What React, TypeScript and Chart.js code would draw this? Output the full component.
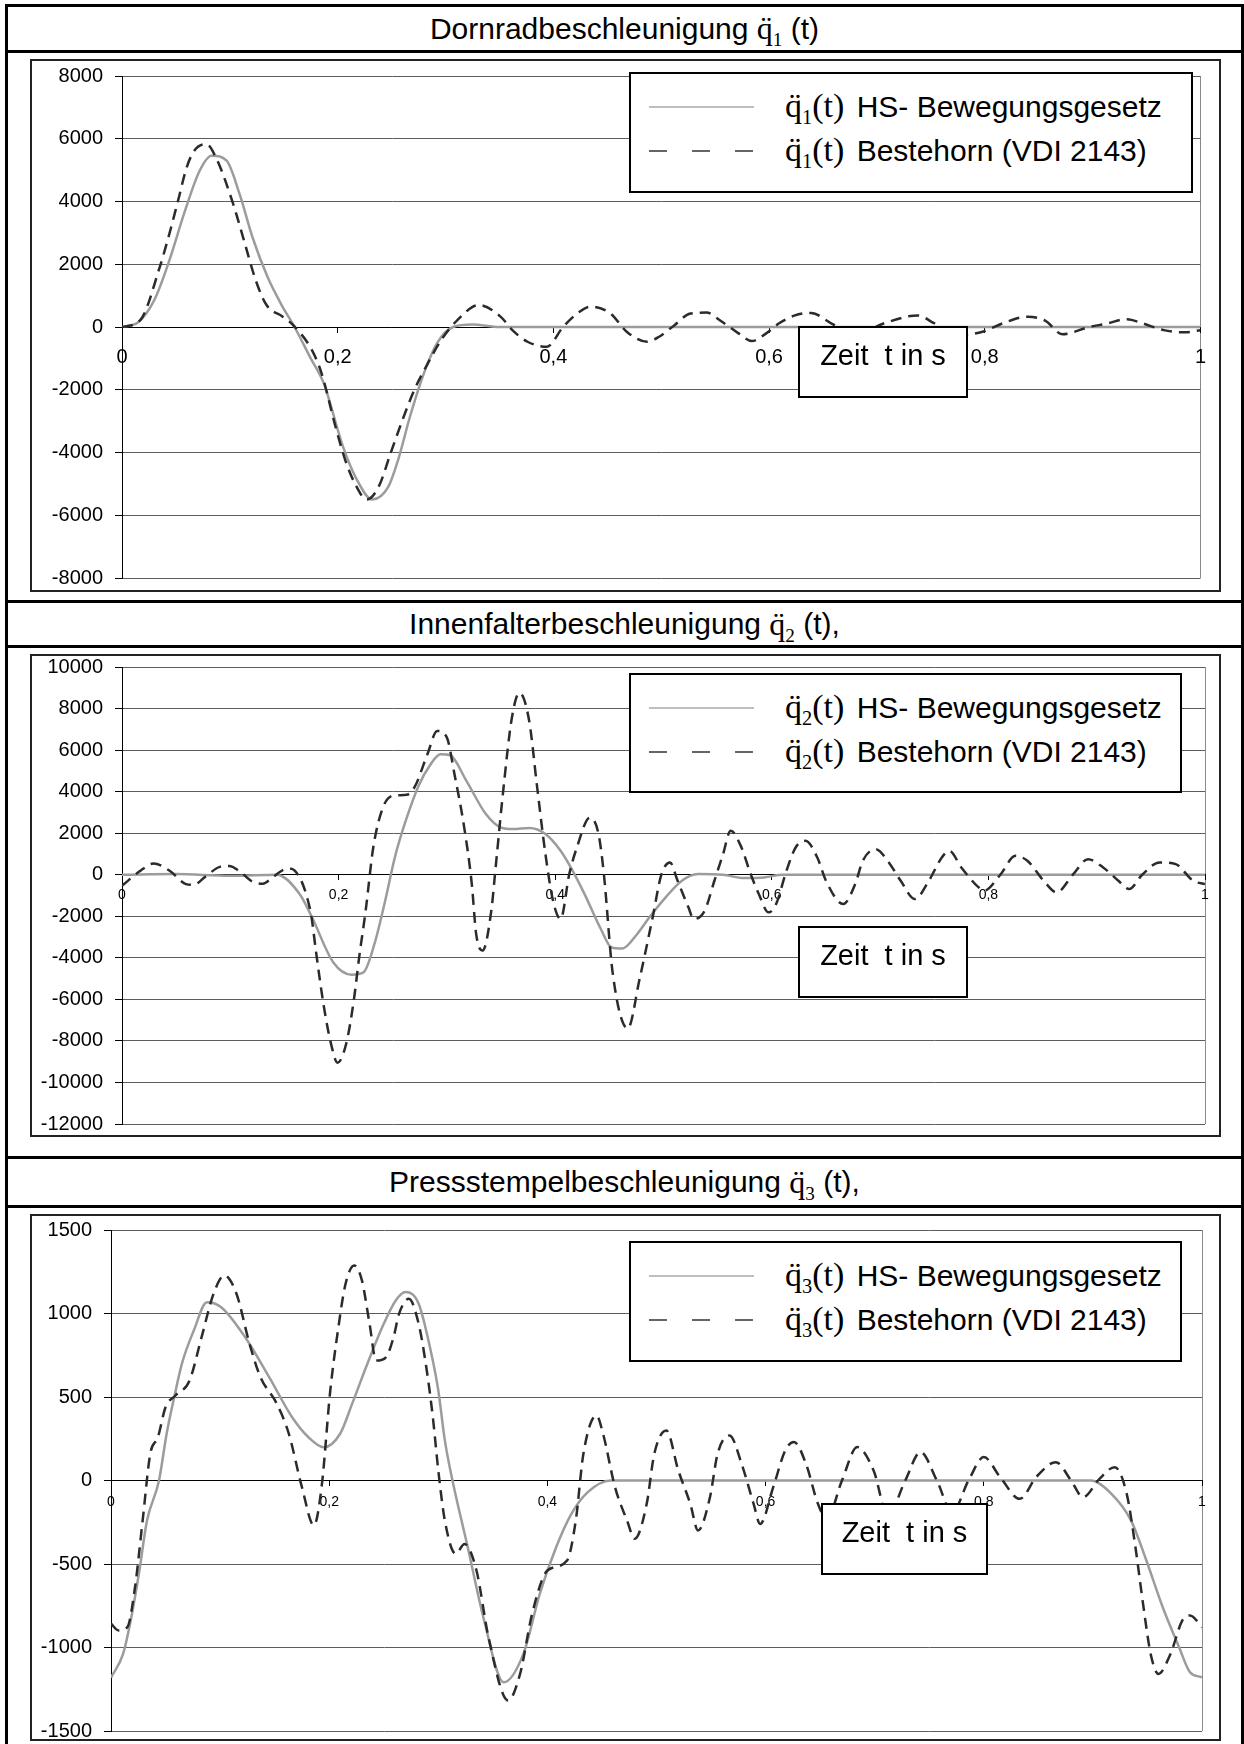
import React, { useEffect, useRef } from 'react';
import { Chart, registerables } from 'chart.js';

Chart.register(...registerables);

// ---------- data ----------
const xTickLabels = ['0', '0,2', '0,4', '0,6', '0,8', '1'];

const q1HsT = [0, 0.015, 0.03, 0.044, 0.058, 0.072, 0.083, 0.097, 0.109, 0.121, 0.135, 0.148, 0.16, 0.175, 0.187, 0.205, 0.218, 0.232, 0.247, 0.256, 0.267, 0.28, 0.292, 0.307, 0.325, 0.35, 0.5, 0.7, 1];
const q1HsV = [0, 150, 860, 2130, 3660, 4980, 5460, 5300, 4240, 2860, 1590, 700, 0, -1000, -1790, -3820, -4880, -5500, -5090, -4240, -2860, -1470, -520, 0, 80, 0, 0, 0, 0];

const q1BhT = [0, 0.017, 0.035, 0.044, 0.052, 0.06, 0.067, 0.078, 0.087, 0.103, 0.114, 0.124, 0.134, 0.149, 0.159, 0.176, 0.185, 0.198, 0.207, 0.216, 0.227, 0.238, 0.249, 0.26, 0.271, 0.282, 0.296, 0.311, 0.331, 0.351, 0.362, 0.376, 0.394, 0.409, 0.424, 0.435, 0.453, 0.468, 0.487, 0.498, 0.512, 0.527, 0.542, 0.555, 0.572, 0.584, 0.597, 0.609, 0.624, 0.639, 0.658, 0.68, 0.707, 0.738, 0.753, 0.775, 0.798, 0.817, 0.84, 0.856, 0.872, 0.897, 0.912, 0.932, 0.946, 0.966, 0.985, 1];
const q1BhV = [0, 220, 1910, 2980, 4030, 5090, 5620, 5830, 5410, 3930, 2650, 1490, 700, 330, 50, -730, -1470, -3180, -4240, -4990, -5500, -5090, -4030, -2970, -2010, -1260, -415, 220, 700, 330, -100, -470, -630, 0, 480, 650, 430, -150, -470, -310, 50, 430, 460, 200, -210, -450, -210, 110, 370, 450, 110, -250, 120, 370, 120, -260, -150, 120, 330, 200, -230, 0, 100, 250, 120, -100, -170, -100];

const q2HsT = [0, 0.05, 0.1, 0.143, 0.164, 0.175, 0.195, 0.212, 0.223, 0.234, 0.243, 0.252, 0.262, 0.274, 0.285, 0.294, 0.303, 0.318, 0.336, 0.35, 0.361, 0.376, 0.391, 0.405, 0.416, 0.427, 0.442, 0.452, 0.462, 0.475, 0.487, 0.502, 0.517, 0.532, 0.555, 0.574, 0.593, 0.61, 0.8, 1];
const q2HsV = [0, 30, -50, 0, -930, -2000, -4210, -4810, -4700, -3170, -1250, 850, 2600, 4300, 5320, 5800, 5750, 4520, 2920, 2270, 2200, 2250, 1960, 1150, 200, -920, -2600, -3500, -3550, -2900, -2050, -1090, -290, 30, 0, -160, -130, 0, 0, 0];

const q2BhT = [0, 0.017, 0.029, 0.044, 0.059, 0.066, 0.077, 0.091, 0.099, 0.108, 0.12, 0.13, 0.139, 0.15, 0.156, 0.164, 0.17, 0.175, 0.179, 0.186, 0.193, 0.199, 0.207, 0.214, 0.219, 0.225, 0.232, 0.241, 0.25, 0.263, 0.27, 0.282, 0.291, 0.3, 0.307, 0.316, 0.323, 0.327, 0.333, 0.341, 0.345, 0.352, 0.36, 0.367, 0.376, 0.383, 0.391, 0.398, 0.405, 0.413, 0.42, 0.432, 0.44, 0.445, 0.453, 0.467, 0.478, 0.49, 0.498, 0.506, 0.513, 0.523, 0.528, 0.538, 0.547, 0.555, 0.562, 0.572, 0.58, 0.588, 0.597, 0.604, 0.613, 0.622, 0.631, 0.642, 0.65, 0.666, 0.677, 0.684, 0.696, 0.707, 0.719, 0.732, 0.745, 0.757, 0.764, 0.775, 0.791, 0.796, 0.811, 0.825, 0.836, 0.851, 0.863, 0.878, 0.892, 0.906, 0.92, 0.93, 0.942, 0.958, 0.973, 0.989, 1];
const q2BhV = [-530, 190, 540, 190, -450, -490, -90, 390, 420, 190, -320, -430, -130, 260, 290, -130, -930, -2050, -3650, -6220, -8140, -9050, -8140, -6060, -3970, -1730, 1310, 3240, 3800, 3850, 4200, 5800, 6920, 6600, 4840, 2270, -450, -2850, -3650, -1730, 350, 4040, 7560, 8760, 7400, 4360, 990, -1250, -2130, 30, 1310, 2750, 1960, 0, -4700, -7400, -5000, -2050, 0, 590, -290, -1570, -2130, -1730, -290, 990, 2120, 1310, 100, -930, -1810, -1410, 100, 1310, 1630, 830, -290, -1410, -450, 670, 1230, 670, -290, -1170, -290, 830, 1150, 350, -610, -770, 0, 910, 670, -290, -850, 0, 750, 350, -290, -690, 0, 590, 510, -290, -450];

const q3HsT = [0, 0.011, 0.018, 0.026, 0.033, 0.044, 0.051, 0.058, 0.065, 0.076, 0.088, 0.101, 0.123, 0.145, 0.166, 0.181, 0.195, 0.21, 0.221, 0.235, 0.25, 0.261, 0.27, 0.282, 0.293, 0.3, 0.306, 0.313, 0.327, 0.342, 0.36, 0.378, 0.393, 0.408, 0.422, 0.437, 0.458, 0.7, 0.898, 0.917, 0.935, 0.949, 0.964, 0.979, 0.989, 1];
const q3HsV = [-1180, -1040, -840, -540, -240, 0, 280, 500, 700, 900, 1068, 1038, 858, 619, 379, 259, 199, 280, 459, 699, 938, 1078, 1128, 1058, 778, 539, 240, 0, -400, -838, -1208, -1038, -679, -400, -200, -70, 0, 0, 0, -80, -240, -479, -759, -998, -1148, -1178];

const q3BhT = [0, 0.007, 0.015, 0.022, 0.029, 0.036, 0.043, 0.05, 0.059, 0.072, 0.083, 0.094, 0.104, 0.115, 0.127, 0.137, 0.152, 0.163, 0.175, 0.186, 0.193, 0.201, 0.208, 0.215, 0.223, 0.23, 0.237, 0.243, 0.252, 0.259, 0.264, 0.273, 0.282, 0.289, 0.295, 0.3, 0.306, 0.316, 0.324, 0.335, 0.346, 0.364, 0.375, 0.386, 0.4, 0.418, 0.426, 0.433, 0.445, 0.451, 0.462, 0.473, 0.48, 0.491, 0.498, 0.509, 0.52, 0.531, 0.538, 0.549, 0.556, 0.567, 0.578, 0.589, 0.595, 0.607, 0.618, 0.626, 0.637, 0.648, 0.656, 0.67, 0.684, 0.699, 0.712, 0.728, 0.742, 0.757, 0.771, 0.786, 0.8, 0.815, 0.833, 0.848, 0.866, 0.88, 0.891, 0.906, 0.92, 0.931, 0.939, 0.946, 0.953, 0.96, 0.971, 0.982, 0.989, 1];
const q3BhV = [-858, -898, -878, -639, -240, 160, 259, 439, 509, 599, 858, 1118, 1228, 1118, 818, 619, 459, 280, -40, -269, -40, 539, 898, 1178, 1287, 1198, 938, 718, 738, 858, 998, 1088, 938, 678, 379, 60, -240, -439, -380, -539, -938, -1317, -1157, -798, -539, -479, -240, 160, 390, 280, -40, -240, -349, -140, 160, 300, 60, -140, -299, -100, 160, 270, 100, -140, -260, -40, 180, 230, 100, -140, -230, 0, 200, 60, -210, 0, 170, 0, -190, 0, 140, 20, -110, 20, 110, 0, -100, 10, 80, -80, -400, -740, -1040, -1158, -1040, -838, -808, -878];

// ---------- layout ----------
const SANS = "'Liberation Sans', Arial, sans-serif";
const SERIF = "'Liberation Serif', 'Times New Roman', serif";
const EXT = 26; // canvas extends beyond the frame so tick-label overhang does not shrink the plot

type Spec = {
  frame: { x: number; y: number; w: number; h: number };
  padTop: number; padBottom: number; padRight: number; yAxisW: number;
  yMin: number; yMax: number; yStep: number;
  xFont: number; xPad: number;
  hsT: number[]; hsV: number[]; bhT: number[]; bhV: number[];
  legend: { x: number; y: number; w: number; h: number };
  zeit: { x: number; y: number; w: number; h: number };
  idx: string;
};

const specs: Spec[] = [
  {
    frame: { x: 30, y: 59, w: 1191, h: 533 }, padTop: 17, padBottom: 14, padRight: 16, yAxisW: 92,
    yMin: -8000, yMax: 8000, yStep: 2000, xFont: 20, xPad: 15,
    hsT: q1HsT, hsV: q1HsV, bhT: q1BhT, bhV: q1BhV,
    legend: { x: 629, y: 72, w: 564, h: 121 }, zeit: { x: 798, y: 326, w: 170, h: 72 }, idx: '1',
  },
  {
    frame: { x: 30, y: 654, w: 1191, h: 483 }, padTop: 13, padBottom: 13, padRight: 16, yAxisW: 92,
    yMin: -12000, yMax: 10000, yStep: 2000, xFont: 14, xPad: 8,
    hsT: q2HsT, hsV: q2HsV, bhT: q2BhT, bhV: q2BhV,
    legend: { x: 629, y: 673, w: 553, h: 120 }, zeit: { x: 798, y: 926, w: 170, h: 72 }, idx: '2',
  },
  {
    frame: { x: 30, y: 1214, w: 1191, h: 527 }, padTop: 16, padBottom: 10, padRight: 19, yAxisW: 81,
    yMin: -1500, yMax: 1500, yStep: 500, xFont: 14, xPad: 10,
    hsT: q3HsT, hsV: q3HsV, bhT: q3BhT, bhV: q3BhV,
    legend: { x: 629, y: 1241, w: 553, h: 121 }, zeit: { x: 821, y: 1503, w: 167, h: 72 }, idx: '3',
  },
];

const titles = [
  { text: 'Dornradbeschleunigung ', idx: '1', tail: '(t)', top: 7, h: 43 },
  { text: 'Innenfalterbeschleunigung ', idx: '2', tail: '(t),', top: 603, h: 42 },
  { text: 'Pressstempelbeschleunigung ', idx: '3', tail: '(t),', top: 1159, h: 46 },
];

function toPoints(t: number[], v: number[]) {
  return t.map((x, i) => ({ x, y: v[i] }));
}

function buildConfig(s: Spec): any {
  return {
    type: 'line',
    data: {
      datasets: [
        {
          label: 'Bestehorn (VDI 2143)',
          data: toPoints(s.bhT, s.bhV),
          borderColor: '#2b2b2b',
          borderWidth: 2.5,
          borderDash: [11, 7],
          pointRadius: 0,
          cubicInterpolationMode: 'monotone',
          fill: false,
        },
        {
          label: 'HS- Bewegungsgesetz',
          data: toPoints(s.hsT, s.hsV),
          borderColor: '#9c9c9c',
          borderWidth: 2.5,
          pointRadius: 0,
          cubicInterpolationMode: 'monotone',
          fill: false,
        },
      ],
    },
    options: {
      responsive: false,
      animation: false,
      events: [],
      layout: { padding: { top: s.padTop + EXT, bottom: s.padBottom + EXT, right: s.padRight, left: 0 } },
      plugins: { legend: { display: false }, tooltip: { enabled: false }, title: { display: false } },
      scales: {
        x: {
          type: 'linear',
          min: 0,
          max: 1,
          position: { y: 0 },
          ticks: {
            stepSize: 0.2,
            autoSkip: false,
            maxRotation: 0,
            color: '#000',
            padding: s.xPad,
            font: { family: SANS, size: s.xFont, lineHeight: 1 },
            callback: (_v: number, i: number) => xTickLabels[i],
          },
          grid: {
            drawOnChartArea: true,
            color: (ctx: any) => (ctx.tick && Math.abs(ctx.tick.value - 1) < 1e-6 ? '#8a8a8a' : 'rgba(0,0,0,0)'),
            tickColor: '#000',
            tickLength: 5,
            lineWidth: 1,
          },
          border: { display: true, color: '#000', width: 1 },
        },
        y: {
          type: 'linear',
          min: s.yMin,
          max: s.yMax,
          afterFit: (scale: any) => { scale.width = s.yAxisW; },
          ticks: {
            stepSize: s.yStep,
            color: '#000',
            padding: 12,
            font: { family: SANS, size: 20, lineHeight: 1 },
            callback: (v: number) => String(v),
          },
          grid: { color: '#5c5c5c', tickColor: '#000', tickLength: 7, lineWidth: 1 },
          border: { display: true, color: '#000', width: 1 },
        },
      },
    },
  };
}

function Sym({ idx, size }: { idx: string; size: number }) {
  return (
    <span style={{ fontFamily: SERIF, fontSize: size }}>
      {'q\u0308'}
      <span style={{ fontSize: size * 0.6, position: 'relative', top: size * 0.22 }}>{idx}</span>
    </span>
  );
}

function Legend({ s }: { s: Spec }) {
  const L = s.legend;
  const fs = 30;
  const rowStyle: React.CSSProperties = {
    position: 'absolute', left: 154, height: 40, lineHeight: '40px', whiteSpace: 'pre', color: '#000',
  };
  return (
    <div style={{ position: 'absolute', left: L.x, top: L.y, width: L.w, height: L.h, boxSizing: 'border-box', border: '2px solid #000', background: '#fff' }}>
      <svg width={L.w} height={L.h} style={{ position: 'absolute', left: -2, top: -2 }}>
        <line x1={20} x2={125} y1={35} y2={35} stroke="#a8a8a8" strokeWidth={1.5} />
        <line x1={20} x2={125} y1={79} y2={79} stroke="#333" strokeWidth={1.5} strokeDasharray="18 25" />
      </svg>
      <div style={{ ...rowStyle, top: 35 - 2 - 21 }}>
        <Sym idx={s.idx} size={34} />
        <span style={{ fontFamily: SERIF, fontSize: 34 }}>(t)</span>
        <span style={{ fontFamily: SANS, fontSize: fs, marginLeft: 4 }}>{' HS- Bewegungsgesetz'}</span>
      </div>
      <div style={{ ...rowStyle, top: 79 - 2 - 21 }}>
        <Sym idx={s.idx} size={34} />
        <span style={{ fontFamily: SERIF, fontSize: 34 }}>(t)</span>
        <span style={{ fontFamily: SANS, fontSize: fs, marginLeft: 4 }}>{' Bestehorn (VDI 2143)'}</span>
      </div>
    </div>
  );
}

function Zeit({ s }: { s: Spec }) {
  const Z = s.zeit;
  return (
    <div style={{ position: 'absolute', left: Z.x, top: Z.y, width: Z.w, height: Z.h, boxSizing: 'border-box', border: '2px solid #000', background: '#fff', textAlign: 'center' }}>
      <div style={{ position: 'absolute', left: 0, right: 0, top: 9, fontFamily: SANS, fontSize: 29, lineHeight: '36px', whiteSpace: 'pre', color: '#000' }}>
        {'Zeit  t in s'}
      </div>
    </div>
  );
}

function Panel({ s }: { s: Spec }) {
  const ref = useRef<HTMLCanvasElement | null>(null);
  useEffect(() => {
    if (!ref.current) return;
    const chart = new Chart(ref.current, buildConfig(s));
    return () => chart.destroy();
  }, []);
  const F = s.frame;
  return (
    <>
      <canvas
        ref={ref}
        width={F.w}
        height={F.h + 2 * EXT}
        style={{ position: 'absolute', left: F.x, top: F.y - EXT, width: F.w, height: F.h + 2 * EXT }}
      />
      <div style={{ position: 'absolute', left: F.x, top: F.y, width: F.w, height: F.h, boxSizing: 'border-box', border: '2px solid #222', pointerEvents: 'none' }} />
      <Legend s={s} />
      <Zeit s={s} />
    </>
  );
}

function HLine({ y }: { y: number }) {
  return <div style={{ position: 'absolute', left: 5, width: 1239, top: y, height: 3, background: '#000' }} />;
}

export default function App() {
  return (
    <div style={{ position: 'absolute', left: 0, top: 0, width: 1244, height: 1744, background: '#fff', overflow: 'hidden', fontFamily: SANS }}>
      {titles.map((t, i) => (
        <div key={i} style={{ position: 'absolute', left: 8, width: 1233, top: t.top, height: t.h, display: 'flex', alignItems: 'center', justifyContent: 'center', whiteSpace: 'pre', color: '#000' }}>
          <span style={{ fontFamily: SANS, fontSize: 30 }}>{t.text}</span>
          <Sym idx={t.idx} size={32} />
          <span style={{ fontFamily: SANS, fontSize: 30 }}>{' ' + t.tail}</span>
        </div>
      ))}
      {specs.map((s, i) => (
        <Panel key={i} s={s} />
      ))}
      {/* table outline */}
      <div style={{ position: 'absolute', left: 5, top: 4, width: 3, height: 1740, background: '#000' }} />
      <div style={{ position: 'absolute', left: 1241, top: 4, width: 3, height: 1740, background: '#000' }} />
      <HLine y={4} />
      <HLine y={50} />
      <HLine y={600} />
      <HLine y={645} />
      <HLine y={1156} />
      <HLine y={1205} />
    </div>
  );
}
